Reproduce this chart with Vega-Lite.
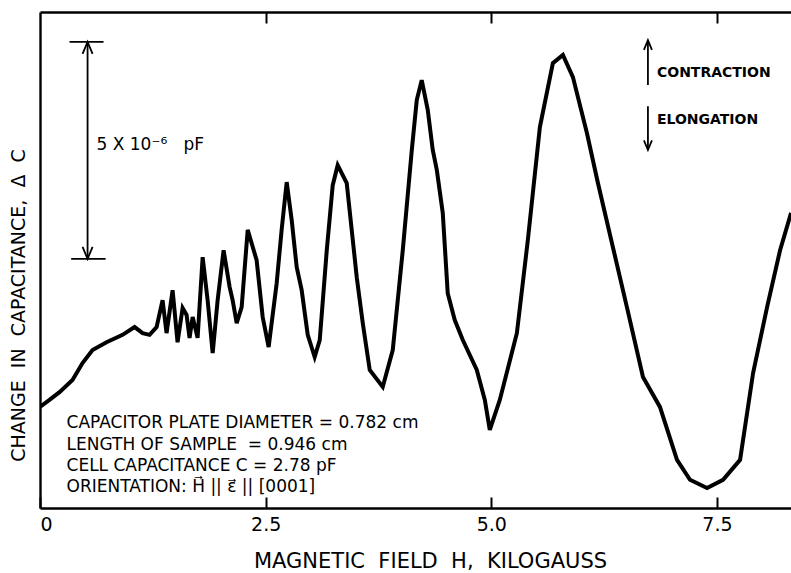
{
  "$schema": "https://vega.github.io/schema/vega-lite/v6.json",
  "width": 751,
  "height": 496,
  "autosize": {"type": "none"},
  "padding": {"left": 40, "top": 12, "right": 0, "bottom": 65},
  "background": "white",
  "config": {
    "view": {"stroke": null},
    "font": "DejaVu Sans",
    "axis": {"grid": false, "domainColor": "black", "domainWidth": 2.4, "tickColor": "black", "tickWidth": 2, "labelColor": "black", "titleColor": "black", "titleFontWeight": "normal"}
  },
  "layer": [
    {
      "data": {"values": [
        {"H":0.000,"dC":2.33},{"H":0.105,"dC":2.49},{"H":0.216,"dC":2.67},{"H":0.360,"dC":2.95},{"H":0.471,"dC":3.34},{"H":0.582,"dC":3.64},{"H":0.737,"dC":3.82},{"H":0.915,"dC":3.99},{"H":1.048,"dC":4.17},{"H":1.137,"dC":4.03},{"H":1.214,"dC":3.99},{"H":1.292,"dC":4.17},{"H":1.358,"dC":4.79},{"H":1.402,"dC":4.03},{"H":1.469,"dC":5.02},{"H":1.524,"dC":3.82},{"H":1.580,"dC":4.61},{"H":1.624,"dC":4.45},{"H":1.657,"dC":3.92},{"H":1.691,"dC":4.40},{"H":1.746,"dC":3.92},{"H":1.802,"dC":5.78},{"H":1.857,"dC":4.79},{"H":1.913,"dC":3.57},{"H":1.968,"dC":4.79},{"H":2.034,"dC":5.94},{"H":2.101,"dC":5.09},{"H":2.134,"dC":4.79},{"H":2.179,"dC":4.26},{"H":2.234,"dC":4.63},{"H":2.301,"dC":6.41},{"H":2.400,"dC":5.71},{"H":2.467,"dC":4.40},{"H":2.533,"dC":3.71},{"H":2.622,"dC":5.18},{"H":2.677,"dC":6.41},{"H":2.733,"dC":7.51},{"H":2.788,"dC":6.64},{"H":2.844,"dC":5.55},{"H":2.899,"dC":5.02},{"H":2.966,"dC":3.99},{"H":3.043,"dC":3.48},{"H":3.099,"dC":3.87},{"H":3.177,"dC":5.94},{"H":3.243,"dC":7.44},{"H":3.298,"dC":7.90},{"H":3.398,"dC":7.49},{"H":3.509,"dC":5.32},{"H":3.576,"dC":4.26},{"H":3.653,"dC":3.18},{"H":3.797,"dC":2.79},{"H":3.908,"dC":3.64},{"H":4.019,"dC":5.94},{"H":4.119,"dC":8.25},{"H":4.174,"dC":9.40},{"H":4.229,"dC":9.86},{"H":4.296,"dC":9.17},{"H":4.351,"dC":8.25},{"H":4.396,"dC":7.79},{"H":4.462,"dC":6.80},{"H":4.517,"dC":4.95},{"H":4.595,"dC":4.33},{"H":4.684,"dC":3.87},{"H":4.839,"dC":3.18},{"H":4.928,"dC":2.49},{"H":4.983,"dC":1.80},{"H":5.094,"dC":2.49},{"H":5.283,"dC":4.03},{"H":5.405,"dC":6.18},{"H":5.538,"dC":8.78},{"H":5.682,"dC":10.25},{"H":5.793,"dC":10.44},{"H":5.904,"dC":9.93},{"H":6.059,"dC":8.64},{"H":6.181,"dC":7.49},{"H":6.347,"dC":6.01},{"H":6.502,"dC":4.63},{"H":6.680,"dC":3.02},{"H":6.868,"dC":2.33},{"H":7.057,"dC":1.11},{"H":7.201,"dC":0.65},{"H":7.390,"dC":0.46},{"H":7.567,"dC":0.65},{"H":7.756,"dC":1.11},{"H":7.900,"dC":3.11},{"H":8.055,"dC":4.63},{"H":8.199,"dC":5.94},{"H":8.321,"dC":6.80}
      ]},
      "mark": {"type": "line", "color": "black", "strokeWidth": 4, "clip": true},
      "encoding": {
        "x": {"field": "H", "type": "quantitative",
          "scale": {"domain": [0, 8.32], "nice": false, "zero": false},
          "axis": {"orient": "bottom", "values": [0, 2.5, 5, 7.5], "tickSize": -11, "labelPadding": 18, "labelFontSize": 19, "labelFont": "DejaVu Sans",
            "labelExpr": "datum.value == 0 ? '0' : format(datum.value, '.1f')",
            "title": "MAGNETIC\u00a0\u00a0FIELD\u00a0\u00a0H,\u00a0\u00a0KILOGAUSS", "titleFont": "DejaVu Sans", "titleFontSize": 21, "titleX": 390, "titleY": 53, "titleAlign": "center", "titleBaseline": "middle", "titleAngle": 0}},
        "y": {"field": "dC", "type": "quantitative",
          "scale": {"domain": [0, 11.43], "nice": false, "zero": false},
          "axis": {"orient": "left", "ticks": false, "labels": false,
            "title": "CHANGE\u00a0\u00a0IN\u00a0\u00a0CAPACITANCE,\u00a0\u00a0Δ\u00a0\u00a0C", "titleFont": "DejaVu Sans", "titleFontSize": 19, "titleX": -22, "titleY": 293, "titleAngle": -90, "titleAlign": "center", "titleBaseline": "middle"}}
      }
    },
    {
      "data": {"values": [{"f": 1}]},
      "mark": {"type": "rule", "color": "black", "strokeWidth": 0},
      "encoding": {
        "x": {"datum": 0, "type": "quantitative", "axis": {"orient": "top", "values": [2.5, 5, 7.5], "tickSize": -11, "labels": false, "title": null}}
      }
    },
    {
      "data": {"values": [{"bar": "5e-6 pF"}]},
      "mark": {"type": "rule", "color": "black", "strokeWidth": 1.8},
      "encoding": {"x": {"datum": 0.527, "axis": null}, "y": {"datum": 5.74}, "y2": {"datum": 10.74}}
    },
    {
      "data": {"values": [{"bar": "top"}]},
      "mark": {"type": "rule", "color": "black", "strokeWidth": 1.8},
      "encoding": {"x": {"datum": 0.327, "axis": null}, "x2": {"datum": 0.704}, "y": {"datum": 10.74}}
    },
    {
      "data": {"values": [{"bar": "bottom"}]},
      "mark": {"type": "rule", "color": "black", "strokeWidth": 1.8},
      "encoding": {"x": {"datum": 0.345, "axis": null}, "x2": {"datum": 0.727}, "y": {"datum": 5.74}}
    },
    {
      "data": {"values": [{"arrow": "up"}]},
      "mark": {"type": "point", "shape": "M-1,2.4L0,0L1,2.4", "filled": false, "stroke": "black", "strokeWidth": 1.8, "size": 100, "opacity": 1},
      "encoding": {"x": {"datum": 0.527, "axis": null}, "y": {"datum": 10.74}}
    },
    {
      "data": {"values": [{"arrow": "down"}]},
      "mark": {"type": "point", "shape": "M-1,-2.4L0,0L1,-2.4", "filled": false, "stroke": "black", "strokeWidth": 1.8, "size": 100, "opacity": 1},
      "encoding": {"x": {"datum": 0.527, "axis": null}, "y": {"datum": 5.74}}
    },
    {
      "data": {"values": [{"label": "5 X 10⁻⁶\u00a0\u00a0\u00a0pF"}]},
      "mark": {"type": "text", "align": "left", "baseline": "middle", "fontSize": 17, "font": "DejaVu Sans", "color": "black"},
      "encoding": {"x": {"datum": 0.626, "axis": null}, "y": {"datum": 8.36}, "text": {"field": "label"}}
    },
    {
      "data": {"values": [{"arrow": "contraction"}]},
      "mark": {"type": "rule", "color": "black", "strokeWidth": 1.8},
      "encoding": {"x": {"datum": 6.735, "axis": null}, "y": {"datum": 9.75}, "y2": {"datum": 10.78}}
    },
    {
      "data": {"values": [{"arrow": "contraction"}]},
      "mark": {"type": "point", "shape": "M-1,2.4L0,0L1,2.4", "filled": false, "stroke": "black", "strokeWidth": 1.8, "size": 64, "opacity": 1},
      "encoding": {"x": {"datum": 6.735, "axis": null}, "y": {"datum": 10.78}}
    },
    {
      "data": {"values": [{"arrow": "elongation"}]},
      "mark": {"type": "rule", "color": "black", "strokeWidth": 1.8},
      "encoding": {"x": {"datum": 6.735, "axis": null}, "y": {"datum": 9.26}, "y2": {"datum": 8.25}}
    },
    {
      "data": {"values": [{"arrow": "elongation"}]},
      "mark": {"type": "point", "shape": "M-1,-2.4L0,0L1,-2.4", "filled": false, "stroke": "black", "strokeWidth": 1.8, "size": 64, "opacity": 1},
      "encoding": {"x": {"datum": 6.735, "axis": null}, "y": {"datum": 8.25}}
    },
    {
      "data": {"values": [{"label": "CONTRACTION"}]},
      "mark": {"type": "text", "align": "left", "baseline": "middle", "fontSize": 14, "fontWeight": "bold", "font": "DejaVu Sans", "color": "black"},
      "encoding": {"x": {"datum": 6.835, "axis": null}, "y": {"datum": 10.02}, "text": {"field": "label"}}
    },
    {
      "data": {"values": [{"label": "ELONGATION"}]},
      "mark": {"type": "text", "align": "left", "baseline": "middle", "fontSize": 14, "fontWeight": "bold", "font": "DejaVu Sans", "color": "black"},
      "encoding": {"x": {"datum": 6.835, "axis": null}, "y": {"datum": 8.94}, "text": {"field": "label"}}
    },
    {
      "data": {"values": [{"note": "CAPACITOR PLATE DIAMETER = 0.782 cm\nLENGTH OF SAMPLE\u00a0\u00a0= 0.946 cm\nCELL CAPACITANCE C = 2.78 pF\nORIENTATION: H⃗ || ε⃗ || [0001]"}]},
      "mark": {"type": "text", "align": "left", "baseline": "top", "lineBreak": "\n", "lineHeight": 21.4, "fontSize": 17, "font": "DejaVu Sans", "color": "black"},
      "encoding": {"x": {"datum": 0.294, "axis": null}, "y": {"datum": 2.14}, "text": {"field": "note"}}
    }
  ]
}
